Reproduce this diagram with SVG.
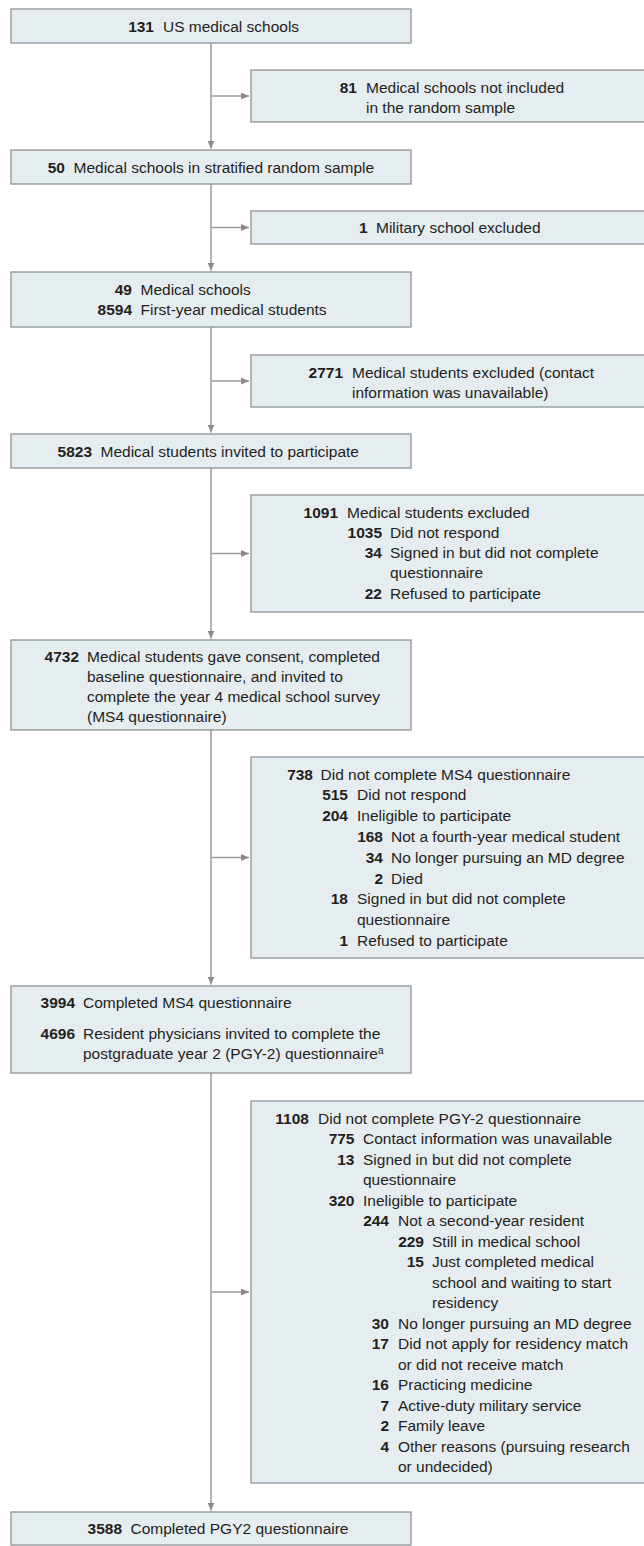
<svg xmlns="http://www.w3.org/2000/svg" width="644" height="1546" viewBox="0 0 644 1546">
<style>
.box{fill:#e6edf1;stroke:#8e9295;stroke-width:1.3}
.c{stroke:#9a9a9a;stroke-width:1.5;fill:none}
text{font-family:"Liberation Sans",Arial,sans-serif;font-size:15.5px;fill:#231f20}
.n{font-weight:bold;text-anchor:end}
.sup{font-size:10px}
</style>
<defs>
<marker id="ah" markerUnits="userSpaceOnUse" markerWidth="9" markerHeight="8" refX="8" refY="3.5" orient="auto">
<path d="M0,0 L8,3.5 L0,7 z" fill="#8a8a8a"/>
</marker>
</defs>
<rect width="644" height="1546" fill="#ffffff"/>
<g id="connectors">
<line class="c" x1="211" y1="43" x2="211" y2="148.5" marker-end="url(#ah)"/>
<line class="c" x1="211" y1="96" x2="249" y2="96" marker-end="url(#ah)"/>
<line class="c" x1="211" y1="184" x2="211" y2="270.5" marker-end="url(#ah)"/>
<line class="c" x1="211" y1="227.5" x2="249" y2="227.5" marker-end="url(#ah)"/>
<line class="c" x1="211" y1="327" x2="211" y2="432.5" marker-end="url(#ah)"/>
<line class="c" x1="211" y1="381" x2="249" y2="381" marker-end="url(#ah)"/>
<line class="c" x1="211" y1="468" x2="211" y2="638.5" marker-end="url(#ah)"/>
<line class="c" x1="211" y1="553.5" x2="249" y2="553.5" marker-end="url(#ah)"/>
<line class="c" x1="211" y1="730" x2="211" y2="984.5" marker-end="url(#ah)"/>
<line class="c" x1="211" y1="857.5" x2="249" y2="857.5" marker-end="url(#ah)"/>
<line class="c" x1="211" y1="1073" x2="211" y2="1510.5" marker-end="url(#ah)"/>
<line class="c" x1="211" y1="1292" x2="249" y2="1292" marker-end="url(#ah)"/>
</g>
<g id="n131">
<rect class="box" x="11" y="9" width="400" height="34"/>
<text x="154" y="31.5" class="n">131</text><text x="163" y="31.5">US medical schools</text>
</g>
<g id="n81">
<rect class="box" x="251" y="70" width="400" height="52"/>
<text x="357" y="92.5" class="n">81</text><text x="366" y="92.5">Medical schools not included</text>
<text x="366" y="112.5">in the random sample</text>
</g>
<g id="n50">
<rect class="box" x="11" y="150" width="400" height="34"/>
<text x="65" y="172.5" class="n">50</text><text x="73.5" y="172.5">Medical schools in stratified random sample</text>
</g>
<g id="n1">
<rect class="box" x="251" y="211" width="400" height="33"/>
<text x="367.5" y="233" class="n">1</text><text x="376" y="233">Military school excluded</text>
</g>
<g id="n49">
<rect class="box" x="11" y="272" width="400" height="55"/>
<text x="132" y="294.5" class="n">49</text><text x="140.5" y="294.5">Medical schools</text>
<text x="132" y="315" class="n">8594</text><text x="140.5" y="315">First-year medical students</text>
</g>
<g id="n2771">
<rect class="box" x="251" y="355" width="400" height="52"/>
<text x="343" y="377.5" class="n">2771</text><text x="352" y="377.5">Medical students excluded (contact</text>
<text x="352" y="397.5">information was unavailable)</text>
</g>
<g id="n5823">
<rect class="box" x="11" y="434" width="400" height="34"/>
<text x="92" y="456.5" class="n">5823</text><text x="100.5" y="456.5">Medical students invited to participate</text>
</g>
<g id="n1091">
<rect class="box" x="251" y="495" width="400" height="117"/>
<text x="338" y="517.5" class="n">1091</text><text x="347" y="517.5">Medical students excluded</text>
<text x="382" y="537.8" class="n">1035</text><text x="390" y="537.8">Did not respond</text>
<text x="382" y="558.1" class="n">34</text><text x="390" y="558.1">Signed in but did not complete</text>
<text x="390" y="578.4">questionnaire</text>
<text x="382" y="598.7" class="n">22</text><text x="390" y="598.7">Refused to participate</text>
</g>
<g id="n4732">
<rect class="box" x="11" y="640" width="400" height="90"/>
<text x="79" y="662" class="n">4732</text><text x="87" y="662">Medical students gave consent, completed</text>
<text x="87" y="682">baseline questionnaire, and invited to</text>
<text x="87" y="702">complete the year 4 medical school survey</text>
<text x="87" y="722">(MS4 questionnaire)</text>
</g>
<g id="n738">
<rect class="box" x="251" y="757" width="400" height="201"/>
<text x="313" y="779.5" class="n">738</text><text x="320.5" y="779.5">Did not complete MS4 questionnaire</text>
<text x="348" y="800.3" class="n">515</text><text x="357" y="800.3">Did not respond</text>
<text x="348" y="821.1" class="n">204</text><text x="357" y="821.1">Ineligible to participate</text>
<text x="383" y="841.9" class="n">168</text><text x="391" y="841.9">Not a fourth-year medical student</text>
<text x="383" y="862.7" class="n">34</text><text x="391" y="862.7">No longer pursuing an MD degree</text>
<text x="383" y="883.5" class="n">2</text><text x="391" y="883.5">Died</text>
<text x="348" y="904.3" class="n">18</text><text x="357" y="904.3">Signed in but did not complete</text>
<text x="357" y="925.1">questionnaire</text>
<text x="348" y="945.9" class="n">1</text><text x="357" y="945.9">Refused to participate</text>
</g>
<g id="n3994">
<rect class="box" x="11" y="986" width="400" height="87"/>
<text x="75" y="1008" class="n">3994</text><text x="83" y="1008">Completed MS4 questionnaire</text>
<text x="75" y="1038.5" class="n">4696</text><text x="83" y="1038.5">Resident physicians invited to complete the</text>
<text x="83" y="1058.5">postgraduate year 2 (PGY-2) questionnaire<tspan class="sup" dy="-5">a</tspan></text>
</g>
<g id="n1108">
<rect class="box" x="251" y="1101" width="400" height="382"/>
<text x="309" y="1123.5" class="n">1108</text><text x="318" y="1123.5">Did not complete PGY-2 questionnaire</text>
<text x="354.5" y="1144" class="n">775</text><text x="363" y="1144">Contact information was unavailable</text>
<text x="354.5" y="1164.5" class="n">13</text><text x="363" y="1164.5">Signed in but did not complete</text>
<text x="363" y="1185">questionnaire</text>
<text x="354.5" y="1205.5" class="n">320</text><text x="363" y="1205.5">Ineligible to participate</text>
<text x="389" y="1226" class="n">244</text><text x="398" y="1226">Not a second-year resident</text>
<text x="424" y="1246.5" class="n">229</text><text x="432" y="1246.5">Still in medical school</text>
<text x="424" y="1267" class="n">15</text><text x="432" y="1267">Just completed medical</text>
<text x="432" y="1287.5">school and waiting to start</text>
<text x="432" y="1308">residency</text>
<text x="389" y="1328.5" class="n">30</text><text x="398" y="1328.5">No longer pursuing an MD degree</text>
<text x="389" y="1349" class="n">17</text><text x="398" y="1349">Did not apply for residency match</text>
<text x="398" y="1369.5">or did not receive match</text>
<text x="389" y="1390" class="n">16</text><text x="398" y="1390">Practicing medicine</text>
<text x="389" y="1410.5" class="n">7</text><text x="398" y="1410.5">Active-duty military service</text>
<text x="389" y="1431" class="n">2</text><text x="398" y="1431">Family leave</text>
<text x="389" y="1451.5" class="n">4</text><text x="398" y="1451.5">Other reasons (pursuing research</text>
<text x="398" y="1472">or undecided)</text>
</g>
<g id="n3588">
<rect class="box" x="11" y="1512" width="400" height="33"/>
<text x="122" y="1534" class="n">3588</text><text x="130.5" y="1534">Completed PGY2 questionnaire</text>
</g>
</svg>
